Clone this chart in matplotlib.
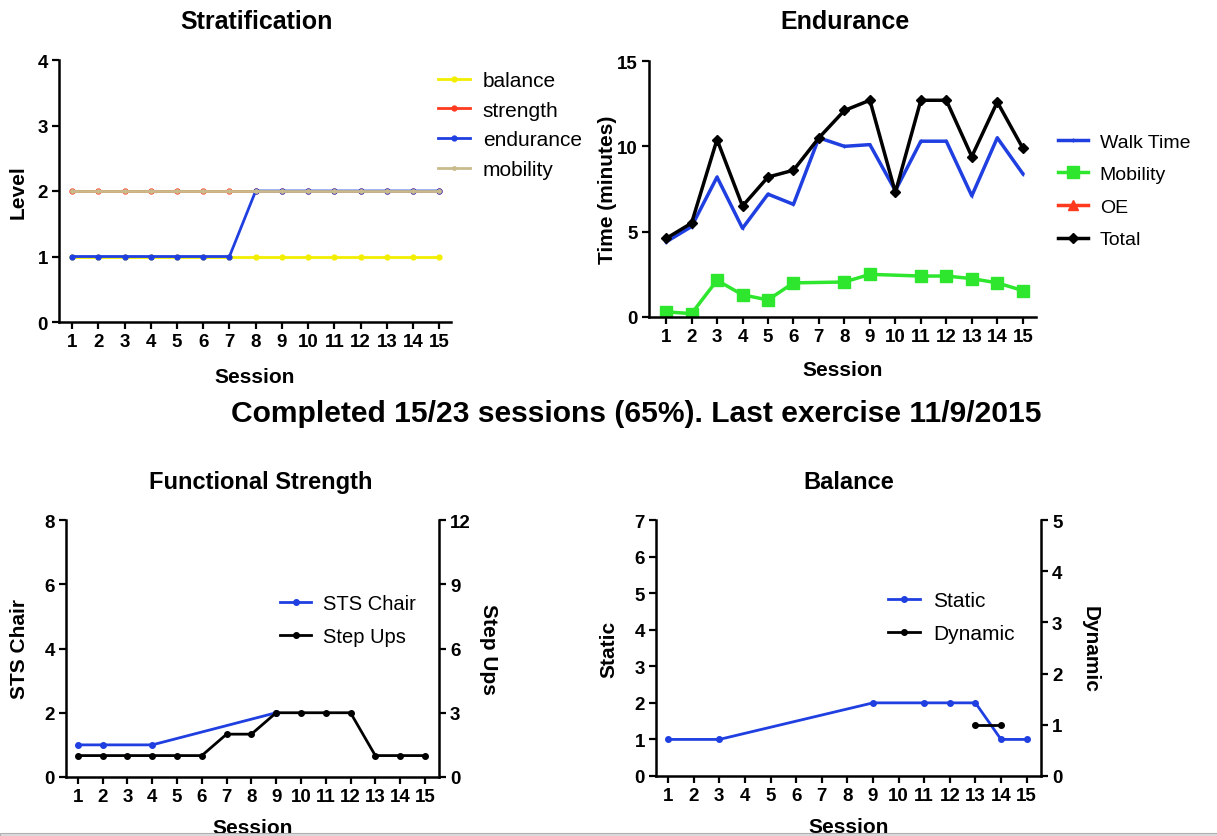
import numpy as np
import matplotlib
matplotlib.use("Agg")
import matplotlib.pyplot as plt
from matplotlib.patches import Rectangle

plt.rcParams["font.family"] = ["Liberation Sans", "DejaVu Sans"]

sessions = list(range(1, 16))

# Stratification levels
strat_balance = [1] * 15
strat_strength = [2] * 15
strat_endurance = [1, 1, 1, 1, 1, 1, 1, 2, 2, 2, 2, 2, 2, 2, 2]
strat_mobility = [2] * 15

# Endurance (minutes)
walk_time = [4.4, 5.3, 8.2, 5.2, 7.2, 6.6, 10.5, 10.0, 10.1, 7.4, 10.3, 10.3, 7.1, 10.5, 8.4]
mobility_time = [0.3, 0.2, 2.15, 1.3, 1.0, 2.0, np.nan, 2.05, 2.5, np.nan, 2.4, 2.4, 2.25, 2.0, 1.55]
oe_time = [np.nan] * 15
total_time = [4.6, 5.5, 10.4, 6.5, 8.2, 8.6, 10.5, 12.1, 12.7, 7.3, 12.7, 12.7, 9.4, 12.6, 9.9]

# Functional strength
sts_chair = [1, 1, np.nan, 1, np.nan, np.nan, np.nan, np.nan, 2, np.nan, np.nan, np.nan, np.nan, np.nan, np.nan]
step_ups = [1, 1, 1, 1, 1, 1, 2, 2, 3, 3, 3, 3, 1, 1, 1]

# Balance
static = [1, np.nan, 1, np.nan, np.nan, np.nan, np.nan, np.nan, 2, np.nan, 2, 2, 2, 1, 1]
dynamic = [np.nan] * 12 + [1, 1, np.nan]

YELLOW = "#f2ee00"
RED = "#ff3a1e"
BLUE = "#1f3fe0"
TAN = "#c9bb8c"
GREEN = "#2ee62e"

W, H = 1217, 837
fig = plt.figure(figsize=(W / 100, H / 100), dpi=100)


def rect(x0, x1, top, bot):
    return [x0 / W, (H - bot) / H, (x1 - x0) / W, (bot - top) / H]


def connected(x, y):
    x = np.asarray(x, float)
    y = np.asarray(y, float)
    ok = ~np.isnan(y)
    return x[ok], y[ok]


def style(ax):
    for s in ["top", "right"]:
        ax.spines[s].set_visible(False)
    for s in ["left", "bottom"]:
        ax.spines[s].set_linewidth(1.8)
    ax.tick_params(direction="out", length=5, width=1.6, labelsize=13.5, pad=3)
    ax.set_xticks(sessions)
    for lab in ax.get_xticklabels() + ax.get_yticklabels():
        lab.set_fontweight("bold")
    ax.set_xlabel("Session", fontsize=15, fontweight="bold")


def style_right(ax):
    for s in ["top", "left", "bottom"]:
        ax.spines[s].set_visible(False)
    ax.spines["right"].set_linewidth(1.8)
    ax.tick_params(direction="out", length=5, width=1.6, labelsize=13.5, pad=3)
    for lab in ax.get_yticklabels():
        lab.set_fontweight("bold")


def fig_legend(ax, handles, labels, x, y, size, spacing):
    ax.legend(handles, labels, loc="upper left", bbox_to_anchor=(x / W, 1 - y / H),
              bbox_transform=fig.transFigure, frameon=False, fontsize=size,
              borderpad=0, borderaxespad=0, handlelength=1.55, handletextpad=0.6,
              labelspacing=spacing)


# ---- Stratification ----
ax1 = fig.add_axes(rect(59, 451, 61, 323))
l1, = ax1.plot(sessions, strat_balance, color=YELLOW, lw=2, marker="o", ms=3.5)
l2, = ax1.plot(sessions, strat_strength, color=RED, lw=2, marker="o", ms=3.5)
l3, = ax1.plot(sessions, strat_endurance, color=BLUE, lw=2, marker="o", ms=3.5)
l4, = ax1.plot(sessions, strat_mobility, color=TAN, lw=2, marker="o", ms=2.5)
ax1.set_xlim(0.5, 15.45)
ax1.set_ylim(0, 4)
ax1.set_yticks([0, 1, 2, 3, 4])
style(ax1)
ax1.set_ylabel("Level", fontsize=15, fontweight="bold")
ax1.yaxis.set_label_coords(-0.08, 0.5)
ax1.xaxis.set_label_coords(0.5, -0.172)
fig_legend(ax1, [l1, l2, l3, l4], ["balance", "strength", "endurance", "mobility"], 438, 72, 15, 0.51)

# ---- Endurance ----
ax2 = fig.add_axes(rect(649, 1036, 62, 318))
e1, = ax2.plot(sessions, walk_time, color=BLUE, lw=2.5, marker="|", ms=3)
e2, = ax2.plot(*connected(sessions, mobility_time), color=GREEN, lw=2.5, marker="s", ms=8)
e3, = ax2.plot(sessions, oe_time, color=RED, lw=2.5, marker="^", ms=7)
e4, = ax2.plot(sessions, total_time, color="black", lw=2.5, marker="D", ms=5)
ax2.set_xlim(0.33, 15.52)
ax2.set_ylim(0, 15)
ax2.set_yticks([0, 5, 10, 15])
style(ax2)
ax2.set_ylabel("Time (minutes)", fontsize=15, fontweight="bold")
ax2.yaxis.set_label_coords(-0.083, 0.5)
ax2.xaxis.set_label_coords(0.5, -0.168)
fig_legend(ax2, [e1, e2, e3, e4], ["Walk Time", "Mobility", "OE", "Total"], 1058, 134, 14, 0.77)

# ---- Functional Strength ----
ax3 = fig.add_axes(rect(66, 439, 521, 778))
f1, = ax3.plot(*connected(sessions, sts_chair), color=BLUE, lw=2, marker="o", ms=4)
ax3.set_xlim(0.52, 15.57)
ax3.set_ylim(0, 8)
ax3.set_yticks([0, 2, 4, 6, 8])
style(ax3)
ax3.set_ylabel("STS Chair", fontsize=15, fontweight="bold")
ax3.yaxis.set_label_coords(-0.099, 0.5)
ax3.xaxis.set_label_coords(0.5, -0.158)
ax3b = ax3.twinx()
f2, = ax3b.plot(sessions, step_ups, color="black", lw=2, marker="o", ms=4)
ax3b.set_ylim(0, 12)
ax3b.set_yticks([0, 3, 6, 9, 12])
style_right(ax3b)
ax3b.set_ylabel("Step Ups", fontsize=15, fontweight="bold", rotation=270)
ax3b.yaxis.set_label_coords(1.158, 0.5)
fig_legend(ax3b, [f1, f2], ["STS Chair", "Step Ups"], 280, 595, 14.5, 0.7)

# ---- Balance ----
ax4 = fig.add_axes(rect(656, 1041, 521, 777))
b1, = ax4.plot(*connected(sessions, static), color=BLUE, lw=2, marker="o", ms=4)
ax4.set_xlim(0.53, 15.56)
ax4.set_ylim(0, 7)
ax4.set_yticks(range(0, 8))
style(ax4)
ax4.set_ylabel("Static", fontsize=15, fontweight="bold")
ax4.yaxis.set_label_coords(-0.098, 0.5)
ax4.xaxis.set_label_coords(0.5, -0.162)
ax4b = ax4.twinx()
b2, = ax4b.plot(*connected(sessions, dynamic), color="black", lw=2, marker="o", ms=4)
ax4b.set_ylim(0, 5)
ax4b.set_yticks(range(0, 6))
style_right(ax4b)
ax4b.set_ylabel("Dynamic", fontsize=15, fontweight="bold", rotation=270)
ax4b.yaxis.set_label_coords(1.153, 0.5)
fig_legend(ax4b, [b1, b2], ["Static", "Dynamic"], 888, 592, 15, 0.69)

# ---- Titles ----
fig.text(256 / W, 1 - 22 / H, "Stratification", ha="center", va="center", fontsize=18, fontweight="bold")
fig.text(845 / W, 1 - 22 / H, "Endurance", ha="center", va="center", fontsize=18, fontweight="bold")
fig.text(636 / W, 1 - 414 / H, "Completed 15/23 sessions (65%). Last exercise 11/9/2015",
         ha="center", va="center", fontsize=21.6, fontweight="bold")
fig.text(261 / W, 1 - 483 / H, "Functional Strength", ha="center", va="center", fontsize=17, fontweight="bold")
fig.text(849 / W, 1 - 483 / H, "Balance", ha="center", va="center", fontsize=17, fontweight="bold")

# gray strip at the bottom edge
fig.patches.append(Rectangle((0, 0), 1, 3 / H, transform=fig.transFigure,
                             facecolor="#dcdcdc", edgecolor="#b0b0b0", lw=0.8, zorder=10))

fig.savefig("out.png", dpi=100)
